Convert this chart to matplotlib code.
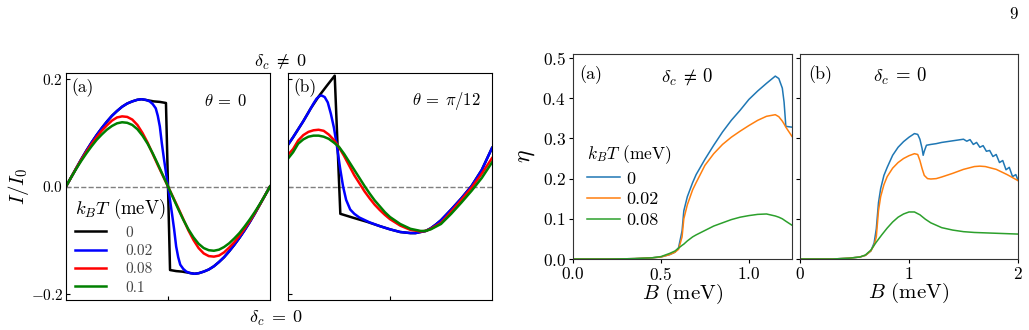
import matplotlib
matplotlib.use("Agg")
import matplotlib.pyplot as plt

plt.rcParams["font.family"] = "serif"
plt.rcParams["font.serif"] = ["cmr10", "DejaVu Serif"]
plt.rcParams["mathtext.fontset"] = "cm"
plt.rcParams["axes.formatter.use_mathtext"] = True

# ---- left panels: current-phase relation, x in units of pi ----
temps_left = ["0", "0.02", "0.08", "0.1"]
colors_left = ["black", "blue", "red", "green"]

phi = [0.0, 0.05, 0.1, 0.15, 0.2, 0.25, 0.3, 0.35, 0.4, 0.45, 0.5, 0.55, 0.6, 0.65,
       0.7, 0.75, 0.8, 0.85, 0.9, 0.95, 1.0, 1.05, 1.1, 1.15, 1.2, 1.25, 1.3, 1.35,
       1.4, 1.45, 1.5, 1.55, 1.6, 1.65, 1.7, 1.75, 1.8, 1.85, 1.9, 1.95, 2.0]

# (a) theta = 0
phi_a_blue = [0.0, 0.05, 0.1, 0.15, 0.2, 0.25, 0.3, 0.35, 0.4, 0.45, 0.5, 0.55, 0.6, 0.65,
              0.7, 0.74, 0.78, 0.82, 0.85, 0.88, 0.9, 0.92, 0.94, 0.96, 0.98, 1.0,
              1.02, 1.04, 1.06, 1.08, 1.1, 1.12, 1.15, 1.18, 1.22, 1.26, 1.3, 1.35,
              1.4, 1.45, 1.5, 1.55, 1.6, 1.65, 1.7, 1.75, 1.8, 1.85, 1.9, 1.95, 2.0]
I_a_blue = [0.0, 0.017, 0.034, 0.051, 0.067, 0.082, 0.096, 0.109, 0.121, 0.132, 0.141, 0.149,
            0.155, 0.159, 0.162, 0.163, 0.162, 0.159, 0.154, 0.146, 0.132, 0.112, 0.080, 0.052,
            0.026, 0.0, -0.026, -0.052, -0.080, -0.112, -0.132, -0.146, -0.154, -0.159, -0.162,
            -0.163, -0.162, -0.159, -0.155, -0.149, -0.141, -0.132, -0.121, -0.109, -0.096,
            -0.082, -0.067, -0.051, -0.034, -0.017, 0.0]
phi_a_black = [0.0, 0.05, 0.1, 0.15, 0.2, 0.25, 0.3, 0.35, 0.4, 0.45, 0.5, 0.55, 0.6, 0.65,
               0.7, 0.74, 0.8, 0.86, 0.92, 0.98, 1.02, 1.08, 1.14, 1.2, 1.26, 1.3, 1.35,
               1.4, 1.45, 1.5, 1.55, 1.6, 1.65, 1.7, 1.75, 1.8, 1.85, 1.9, 1.95, 2.0]
I_a_black = [0.0, 0.017, 0.034, 0.051, 0.067, 0.082, 0.096, 0.109, 0.121, 0.132, 0.141, 0.149,
             0.155, 0.159, 0.162, 0.163, 0.161, 0.159, 0.158, 0.156, -0.156, -0.158, -0.159,
             -0.161, -0.163, -0.162, -0.159, -0.155, -0.149, -0.141, -0.132, -0.121, -0.109,
             -0.096, -0.082, -0.067, -0.051, -0.034, -0.017, 0.0]
I_a_red = [0.0, 0.017, 0.034, 0.05, 0.065, 0.079, 0.092, 0.104, 0.114, 0.123, 0.129, 0.131,
           0.13, 0.125, 0.115, 0.1, 0.082, 0.061, 0.04, 0.02, 0.0, -0.02, -0.04, -0.061,
           -0.082, -0.1, -0.115, -0.125, -0.13, -0.131, -0.129, -0.123, -0.114, -0.104,
           -0.092, -0.079, -0.065, -0.05, -0.034, -0.017, 0.0]
I_a_green = [0.0, 0.017, 0.033, 0.048, 0.062, 0.075, 0.087, 0.097, 0.106, 0.113, 0.118, 0.12,
             0.119, 0.115, 0.107, 0.095, 0.08, 0.062, 0.042, 0.021, 0.0, -0.021, -0.042,
             -0.062, -0.08, -0.095, -0.107, -0.115, -0.119, -0.12, -0.118, -0.113, -0.106,
             -0.097, -0.087, -0.075, -0.062, -0.048, -0.033, -0.017, 0.0]

# (b) theta = pi/12
phi_b_blue = [0.0, 0.05, 0.1, 0.15, 0.2, 0.25, 0.28, 0.31, 0.33, 0.36, 0.39, 0.42, 0.45,
              0.48, 0.51, 0.54, 0.57, 0.61, 0.65, 0.7, 0.8, 0.9, 1.0, 1.1, 1.2, 1.25, 1.3,
              1.35, 1.4, 1.45, 1.5, 1.6, 1.7, 1.8, 1.9, 2.0]
I_b_blue = [0.078, 0.092, 0.107, 0.122, 0.138, 0.155, 0.164, 0.169, 0.17, 0.167, 0.157,
            0.136, 0.11, 0.075, 0.035, 0.0, -0.025, -0.043, -0.051, -0.058, -0.067, -0.074,
            -0.080, -0.085, -0.087, -0.087, -0.085, -0.083, -0.078, -0.071, -0.063, -0.043,
            -0.022, 0.001, 0.031, 0.072]
phi_b_black = [0.0, 0.05, 0.1, 0.15, 0.22, 0.3, 0.38, 0.458, 0.513, 0.65, 0.775, 0.9, 1.0,
               1.1, 1.2, 1.25, 1.3, 1.35, 1.4, 1.45, 1.5, 1.6, 1.7, 1.8, 1.9, 2.0]
I_b_black = [0.078, 0.092, 0.107, 0.122, 0.145, 0.168, 0.188, 0.207, -0.051, -0.059, -0.066,
             -0.074, -0.080, -0.085, -0.087, -0.087, -0.085, -0.083, -0.078, -0.071, -0.063,
             -0.043, -0.022, 0.001, 0.031, 0.072]
phi_b = [0.0, 0.05, 0.1, 0.15, 0.2, 0.25, 0.3, 0.35, 0.4, 0.45, 0.5, 0.55, 0.6, 0.65, 0.7,
         0.75, 0.8, 0.85, 0.9, 0.95, 1.0, 1.1, 1.2, 1.3, 1.35, 1.4, 1.5, 1.6, 1.7, 1.8, 1.9, 2.0]
I_b_red = [0.059, 0.07, 0.086, 0.096, 0.102, 0.105, 0.106, 0.104, 0.097, 0.087, 0.073, 0.057,
           0.039, 0.021, 0.006, -0.009, -0.022, -0.034, -0.044, -0.053, -0.061, -0.073,
           -0.081, -0.084, -0.083, -0.079, -0.068, -0.047, -0.025, -0.002, 0.024, 0.053]
I_b_green = [0.052, 0.064, 0.08, 0.088, 0.093, 0.095, 0.095, 0.093, 0.089, 0.082, 0.074,
             0.061, 0.046, 0.031, 0.016, 0.001, -0.013, -0.026, -0.037, -0.048, -0.057,
             -0.07, -0.079, -0.083, -0.083, -0.08, -0.07, -0.051, -0.03, -0.008, 0.016, 0.045]

# ---- right panels: diode efficiency vs B ----
temps_right = ["0", "0.02", "0.08"]
colors_right = ["tab:blue", "tab:orange", "tab:green"]

B_a = [0.0, 0.1, 0.2, 0.3, 0.35, 0.4, 0.45, 0.5, 0.55, 0.58, 0.6, 0.62, 0.63, 0.65, 0.68,
       0.7, 0.75, 0.8, 0.85, 0.9, 0.95, 1.0, 1.05, 1.1, 1.15, 1.17, 1.19, 1.2, 1.21, 1.245]
eta_a_0 = [0.0, 0.0, 0.0, 0.0005, 0.001, 0.002, 0.003, 0.005, 0.011, 0.017, 0.028, 0.07,
           0.12, 0.155, 0.19, 0.21, 0.248, 0.283, 0.316, 0.345, 0.37, 0.397, 0.418, 0.437,
           0.455, 0.449, 0.425, 0.39, 0.33, 0.328]
eta_a_002 = [0.0, 0.0, 0.0, 0.0005, 0.001, 0.002, 0.003, 0.005, 0.011, 0.017, 0.024, 0.055,
             0.1, 0.135, 0.172, 0.19, 0.233, 0.262, 0.285, 0.303, 0.318, 0.332, 0.345, 0.355,
             0.359, 0.354, 0.343, 0.336, 0.328, 0.305]
eta_a_008 = [0.0, 0.0, 0.0, 0.0005, 0.001, 0.002, 0.003, 0.006, 0.014, 0.02, 0.027, 0.034,
             0.037, 0.045, 0.055, 0.06, 0.071, 0.082, 0.09, 0.098, 0.104, 0.108, 0.111, 0.112,
             0.107, 0.104, 0.1, 0.097, 0.094, 0.084]

B_b_0 = [0.0, 0.3, 0.45, 0.55, 0.6, 0.65, 0.68, 0.7, 0.72, 0.74, 0.77, 0.8, 0.85, 0.9, 0.95,
         1.0, 1.05, 1.08, 1.1, 1.12, 1.13, 1.14, 1.16, 1.2, 1.25, 1.3, 1.35, 1.4, 1.45, 1.5,
         1.53, 1.56, 1.59, 1.62, 1.65, 1.68, 1.71, 1.74, 1.77, 1.8, 1.83, 1.86, 1.89, 1.92,
         1.95, 1.98, 2.0]
eta_b_0 = [0.0, 0.0, 0.002, 0.005, 0.009, 0.02, 0.04, 0.075, 0.14, 0.175, 0.208, 0.228, 0.258,
           0.278, 0.292, 0.303, 0.312, 0.31, 0.298, 0.275, 0.258, 0.268, 0.283, 0.285, 0.287,
           0.29, 0.292, 0.294, 0.296, 0.298, 0.293, 0.297, 0.285, 0.29, 0.278, 0.282, 0.268,
           0.27, 0.255, 0.26, 0.24, 0.245, 0.222, 0.228, 0.205, 0.21, 0.196]
B_b_002 = [0.0, 0.3, 0.45, 0.55, 0.6, 0.65, 0.68, 0.7, 0.72, 0.74, 0.77, 0.8, 0.85, 0.9, 0.95,
           1.0, 1.05, 1.08, 1.1, 1.12, 1.14, 1.17, 1.2, 1.25, 1.3, 1.4, 1.5, 1.6, 1.65, 1.7,
           1.8, 1.9, 2.0]
eta_b_002 = [0.0, 0.0, 0.002, 0.005, 0.009, 0.02, 0.035, 0.055, 0.12, 0.155, 0.185, 0.205,
             0.226, 0.24, 0.25, 0.257, 0.262, 0.26, 0.245, 0.225, 0.208, 0.2, 0.199, 0.2,
             0.204, 0.213, 0.223, 0.23, 0.231, 0.23, 0.223, 0.21, 0.195]
B_b_008 = [0.0, 0.3, 0.45, 0.55, 0.6, 0.65, 0.7, 0.75, 0.8, 0.85, 0.9, 0.95, 1.0, 1.05, 1.1,
           1.15, 1.2, 1.3, 1.4, 1.5, 1.6, 1.8, 2.0]
eta_b_008 = [0.0, 0.0, 0.002, 0.005, 0.01, 0.022, 0.042, 0.06, 0.077, 0.092, 0.104, 0.112,
             0.117, 0.117, 0.11, 0.099, 0.09, 0.078, 0.072, 0.068, 0.066, 0.064, 0.062]

W, H = 1029, 330
fig = plt.figure(figsize=(W / 100, H / 100), dpi=100)


def px_axes(x0, x1, ytop, ybot):
    return fig.add_axes([x0 / W, 1 - ybot / H, (x1 - x0) / W, (ybot - ytop) / H])


# left panels
axL1 = px_axes(66, 270, 73, 300)
axL2 = px_axes(288, 492, 73, 300)

for ax in (axL1, axL2):
    ax.axhline(0, color="gray", ls="--", lw=1)
    ax.set_xlim(0, 2)
    ax.set_ylim(-0.212, 0.212)
    ax.set_xticks([1])
    ax.set_xticklabels([])
    ax.set_yticks([-0.2, 0.0, 0.2])
    ax.tick_params(direction="in", length=3, width=0.8, labelsize=11, pad=2)

axL1.plot(phi_a_black, I_a_black, color=colors_left[0], lw=1.8, label=temps_left[0])
axL1.plot(phi_a_blue, I_a_blue, color=colors_left[1], lw=1.8, label=temps_left[1])
axL1.plot(phi, I_a_red, color=colors_left[2], lw=1.8, label=temps_left[2])
axL1.plot(phi, I_a_green, color=colors_left[3], lw=1.8, label=temps_left[3])
axL1.set_yticklabels(["$-0.2$", "$0.0$", "$0.2$"])
axL1.set_ylabel("$I/I_0$", fontsize=15, labelpad=0)
axL1.text(0.025, 0.935, "(a)", transform=axL1.transAxes, fontsize=12.5, va="center")
axL1.text(0.887, 0.877, r"$\theta\:=\:0$", transform=axL1.transAxes, fontsize=12,
          ha="right", va="center")
leg = axL1.legend(loc="lower left", bbox_to_anchor=(-0.015, -0.03), frameon=False,
                  title="$k_BT$ (meV)", title_fontsize=13.5, fontsize=11, handlelength=2.0,
                  handletextpad=1.3, labelspacing=0.3, borderpad=0.3)
leg._legend_box.align = "left"
for t in leg.get_texts():
    t.set_color("#444444")

axL2.plot(phi_b_black, I_b_black, color=colors_left[0], lw=1.8)
axL2.plot(phi_b_blue, I_b_blue, color=colors_left[1], lw=1.8)
axL2.plot(phi_b, I_b_red, color=colors_left[2], lw=1.8)
axL2.plot(phi_b, I_b_green, color=colors_left[3], lw=1.8)
axL2.set_yticklabels([])
axL2.text(0.025, 0.935, "(b)", transform=axL2.transAxes, fontsize=12.5, va="center")
axL2.text(0.945, 0.877, r"$\theta\:=\:\pi/12$", transform=axL2.transAxes, fontsize=12,
          ha="right", va="center")

fig.text(280 / W, 1 - 62 / H, r"$\delta_c \;\neq\; 0$", fontsize=13, ha="center", va="center")
fig.text(276 / W, 1 - 318 / H, r"$\delta_c \;=\; 0$", fontsize=13, ha="center", va="center")

# right panels
axR1 = px_axes(573, 792, 54, 259)
axR2 = px_axes(800, 1018, 54, 259)

for ax in (axR1, axR2):
    ax.set_ylim(0, 0.51)
    ax.set_yticks([0.0, 0.1, 0.2, 0.3, 0.4, 0.5])
    ax.tick_params(direction="out", length=3, width=0.8, labelsize=12.5, pad=2)
    for s in ax.spines.values():
        s.set_color("#333333")
    ax.set_xlabel("$B$ (meV)", fontsize=15, labelpad=-1)

axR1.plot(B_a, eta_a_0, color=colors_right[0], lw=1.1, label=temps_right[0])
axR1.plot(B_a, eta_a_002, color=colors_right[1], lw=1.1, label=temps_right[1])
axR1.plot(B_a, eta_a_008, color=colors_right[2], lw=1.1, label=temps_right[2])
axR1.set_xlim(0, 1.245)
axR1.set_xticks([0.0, 0.5, 1.0])
axR1.set_ylabel(r"$\eta$", fontsize=17, labelpad=4)
axR1.text(0.03, 0.9, "(a)", transform=axR1.transAxes, fontsize=13, va="center")
axR1.text(0.52, 0.89, r"$\delta_c \:\neq\: 0$", transform=axR1.transAxes, fontsize=13.5,
          ha="center", va="center")
leg2 = axR1.legend(loc="upper left", bbox_to_anchor=(0.0, 0.635), frameon=False,
                   title="$k_BT$ (meV)", title_fontsize=12.5, fontsize=13, handlelength=1.8,
                   handletextpad=0.35, labelspacing=0.28, borderpad=0.3)
leg2._legend_box.align = "left"

axR2.plot(B_b_0, eta_b_0, color=colors_right[0], lw=1.1)
axR2.plot(B_b_002, eta_b_002, color=colors_right[1], lw=1.1)
axR2.plot(B_b_008, eta_b_008, color=colors_right[2], lw=1.1)
axR2.set_xlim(0, 2)
axR2.set_xticks([0, 1, 2])
axR2.set_yticklabels([])
axR2.text(0.04, 0.9, "(b)", transform=axR2.transAxes, fontsize=13, va="center")
axR2.text(0.46, 0.89, r"$\delta_c \:=\: 0$", transform=axR2.transAxes, fontsize=13.5,
          ha="center", va="center")

fig.text(1013 / W, 1 - 14 / H, "9", fontsize=12, ha="center", va="center")

fig.savefig("out.png", dpi=100)
